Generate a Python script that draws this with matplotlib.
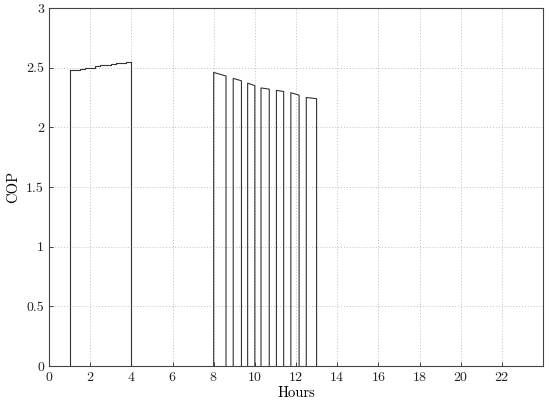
import matplotlib
matplotlib.use("Agg")
import matplotlib.pyplot as plt

# morning run: stepped COP between 1 h and 4 h
morning_hours = [1.0, 1.25, 1.5, 1.75, 2.0, 2.25, 2.5, 2.75, 3.0, 3.25, 3.5, 3.75, 4.0]
morning_cop = [2.48, 2.48, 2.49, 2.50, 2.50, 2.51, 2.52, 2.52, 2.53, 2.54, 2.54, 2.55, 2.55]

# cycling period between 8 h and 13 h
cycle_on = [8.0, 8.95, 9.65, 10.3, 11.05, 11.75, 12.5]
cycle_off = [8.6, 9.35, 10.0, 10.7, 11.4, 12.15, 13.0]
cycle_cop_start = [2.46, 2.41, 2.37, 2.33, 2.31, 2.29, 2.25]
cycle_cop_end = [2.43, 2.39, 2.35, 2.32, 2.30, 2.27, 2.24]

x_ticks = list(range(0, 24, 2))
y_ticks = [0, 0.5, 1, 1.5, 2, 2.5, 3]
y_tick_labels = ["0", "0.5", "1", "1.5", "2", "2.5", "3"]

plt.rcParams["font.family"] = "cmr10"
plt.rcParams["axes.formatter.use_mathtext"] = True

fig = plt.figure(figsize=(5.5, 4.03), dpi=100)
ax = fig.add_axes([49 / 550, 37 / 403, 494 / 550, 358 / 403])

line_kw = dict(color="#333333", linewidth=0.8)

# morning block, rising from and dropping back to zero
ax.step(morning_hours, morning_cop, where="post", **line_kw)
ax.plot([morning_hours[0]] * 2, [0, morning_cop[0]], **line_kw)
ax.plot([morning_hours[-1]] * 2, [0, morning_cop[-1]], **line_kw)

# on/off cycles
for on, off, cs, ce in zip(cycle_on, cycle_off, cycle_cop_start, cycle_cop_end):
    ax.plot([on, on, off, off], [0, cs, ce, 0], **line_kw)

ax.set_xlim(0, 24)
ax.set_ylim(0, 3)
ax.set_xticks(x_ticks)
ax.set_yticks(y_ticks)
ax.set_yticklabels(y_tick_labels)
ax.grid(True, linestyle=(0, (1, 2)), color="#c0c0c0", linewidth=0.7)
ax.set_axisbelow(True)
ax.tick_params(direction="in", length=3, labelsize=10, width=0.6,
               top=False, right=False, colors="#222222")
for sp in ax.spines.values():
    sp.set_linewidth(0.8)
    sp.set_color("#444444")
ax.set_xlabel("Hours", fontsize=10.5, labelpad=2)
ax.set_ylabel("COP", fontsize=10.5, labelpad=4)

fig.savefig("out.png", dpi=100)
